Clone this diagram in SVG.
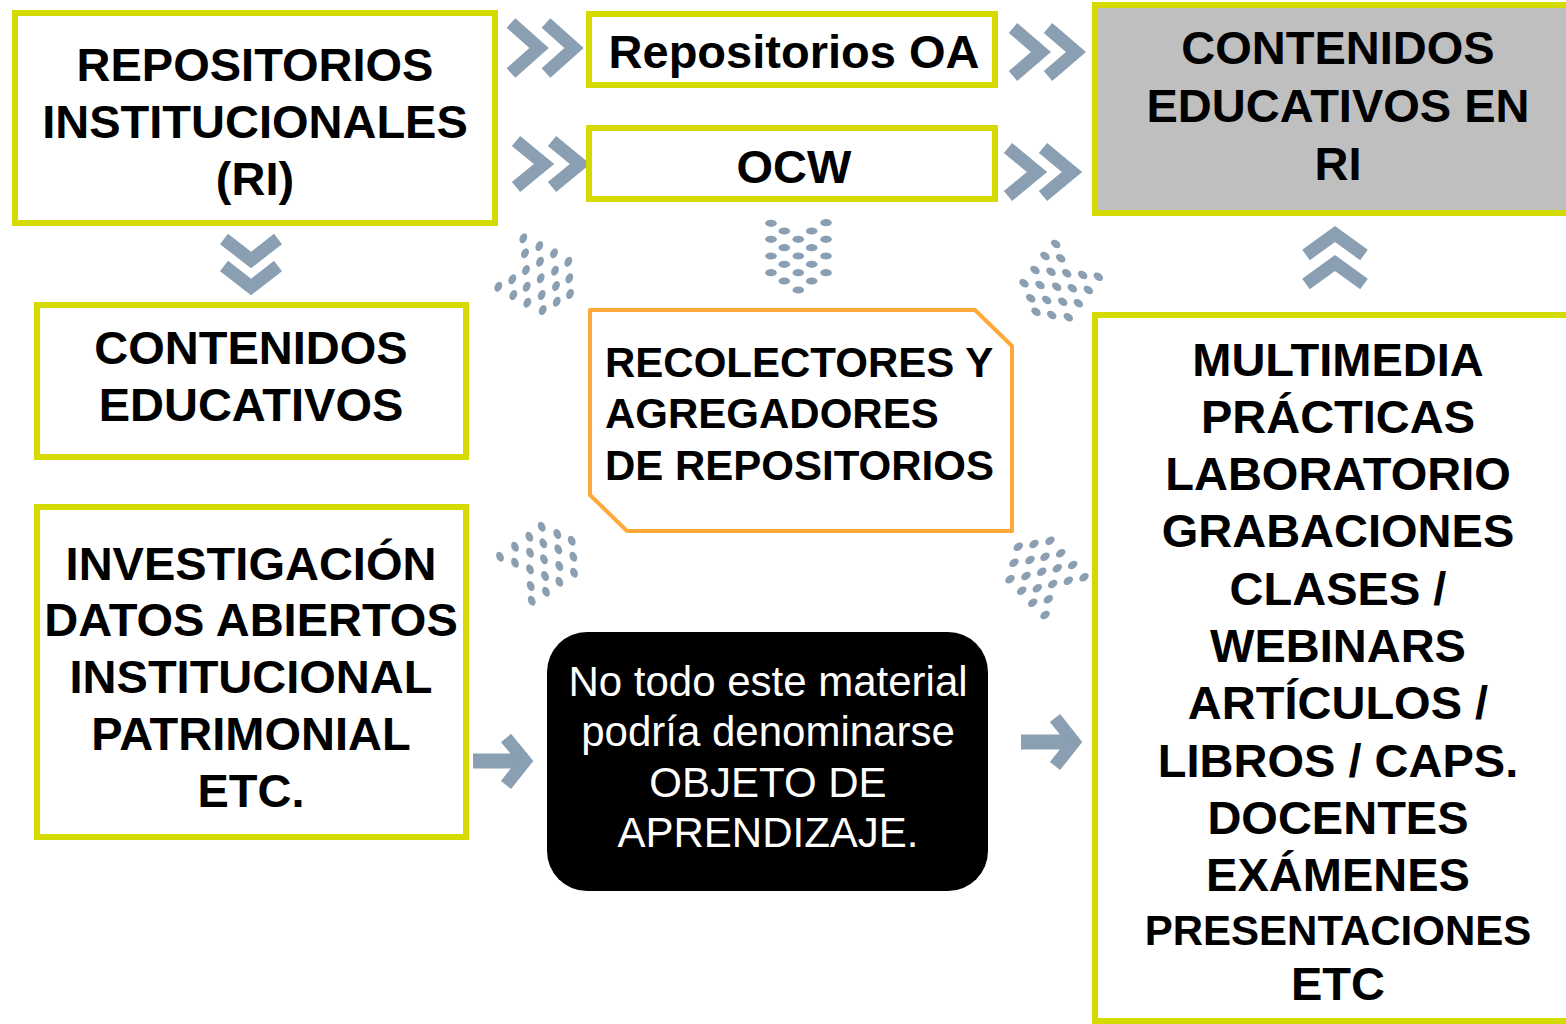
<svg xmlns="http://www.w3.org/2000/svg" width="1566" height="1024" viewBox="0 0 1566 1024">
<defs>
<style>
.box{fill:#FFFFFF;stroke:#D4D900;stroke-width:6}
.gray{fill:#BFBFBF;stroke:#D4D900;stroke-width:6}
.orange{fill:#FFFFFF;stroke:#FFA93A;stroke-width:4;stroke-linejoin:round}
.t{font-family:"Liberation Sans",Arial,sans-serif;font-weight:bold;font-size:47px;fill:#000;text-anchor:middle}
.t42{font-family:"Liberation Sans",Arial,sans-serif;font-weight:bold;font-size:42px;fill:#000}
.w{font-family:"Liberation Sans",Arial,sans-serif;font-size:42px;fill:#FFF;text-anchor:middle}
.chev{fill:none;stroke:#8A9FB2;stroke-width:13;stroke-linejoin:miter;stroke-miterlimit:10}
.shaft{stroke:#8A9FB2;stroke-width:15}
.dot{fill:#8A9FB2}
</style>
</defs>
<rect width="1566" height="1024" fill="#FFFFFF"/>

<g id="connectors">
  <g id="chev-ri-oa">
    <polyline class="chev" points="511,23 539,48 511,73"/>
    <polyline class="chev" points="546,23 574,48 546,73"/>
  </g>
  <g id="chev-ri-ocw">
    <polyline class="chev" points="516,141 544,164 516,187"/>
    <polyline class="chev" points="552,141 580,164 552,187"/>
  </g>
  <g id="chev-oa-cri">
    <polyline class="chev" points="1013,28 1041,52 1013,76"/>
    <polyline class="chev" points="1048,28 1076,52 1048,76"/>
  </g>
  <g id="chev-ocw-cri">
    <polyline class="chev" points="1008,148 1037,172 1008,196"/>
    <polyline class="chev" points="1043,148 1072,172 1043,196"/>
  </g>
  <g id="chev-ri-ce">
    <polyline class="chev" points="224,239 251,260 278,239"/>
    <polyline class="chev" points="224,266 251,287 278,266"/>
  </g>
  <g id="chev-mm-cri">
    <polyline class="chev" points="1306,255 1335,234 1364,255"/>
    <polyline class="chev" points="1306,284 1335,263 1364,284"/>
  </g>
  <g id="arrow-inv-black">
    <line class="shaft" x1="473" y1="761" x2="522" y2="761"/>
    <polyline class="chev" points="506,738 525,761 506,785"/>
  </g>
  <g id="arrow-black-mm">
    <line class="shaft" x1="1021" y1="742" x2="1070" y2="742"/>
    <polyline class="chev" points="1055,718 1074,742 1055,766"/>
  </g>
  <g id="dots1" class="dot">
    <ellipse cx="523.3" cy="238.3" rx="3.6" ry="5.2" transform="rotate(25 523.3 238.3)"/>
    <ellipse cx="539.3" cy="246" rx="3.6" ry="5.2" transform="rotate(25 539.3 246)"/>
    <ellipse cx="525" cy="253.3" rx="3.6" ry="5.2" transform="rotate(25 525 253.3)"/>
    <ellipse cx="554" cy="253.3" rx="3.6" ry="5.2" transform="rotate(25 554 253.3)"/>
    <ellipse cx="540" cy="261.7" rx="3.6" ry="5.2" transform="rotate(25 540 261.7)"/>
    <ellipse cx="568.3" cy="261.7" rx="3.6" ry="5.2" transform="rotate(25 568.3 261.7)"/>
    <ellipse cx="526" cy="270" rx="3.6" ry="5.2" transform="rotate(25 526 270)"/>
    <ellipse cx="555" cy="270.7" rx="3.6" ry="5.2" transform="rotate(25 555 270.7)"/>
    <ellipse cx="540.7" cy="278.3" rx="3.6" ry="5.2" transform="rotate(25 540.7 278.3)"/>
    <ellipse cx="569.3" cy="278.3" rx="3.6" ry="5.2" transform="rotate(25 569.3 278.3)"/>
    <ellipse cx="498.3" cy="286.7" rx="3.6" ry="5.2" transform="rotate(25 498.3 286.7)"/>
    <ellipse cx="512.3" cy="279.3" rx="3.6" ry="5.2" transform="rotate(25 512.3 279.3)"/>
    <ellipse cx="526.7" cy="286.7" rx="3.6" ry="5.2" transform="rotate(25 526.7 286.7)"/>
    <ellipse cx="556" cy="286" rx="3.6" ry="5.2" transform="rotate(25 556 286)"/>
    <ellipse cx="513.3" cy="295" rx="3.6" ry="5.2" transform="rotate(25 513.3 295)"/>
    <ellipse cx="541.7" cy="295" rx="3.6" ry="5.2" transform="rotate(25 541.7 295)"/>
    <ellipse cx="570" cy="294" rx="3.6" ry="5.2" transform="rotate(25 570 294)"/>
    <ellipse cx="527.3" cy="302.7" rx="3.6" ry="5.2" transform="rotate(25 527.3 302.7)"/>
    <ellipse cx="556.7" cy="301.7" rx="3.6" ry="5.2" transform="rotate(25 556.7 301.7)"/>
    <ellipse cx="542.7" cy="310" rx="3.6" ry="5.2" transform="rotate(25 542.7 310)"/>
  </g>
  <g id="dots2" class="dot">
    <ellipse cx="771" cy="223.3" rx="5.8" ry="3.6"/>
    <ellipse cx="826" cy="222.7" rx="5.8" ry="3.6"/>
    <ellipse cx="784.3" cy="231" rx="5.8" ry="3.6"/>
    <ellipse cx="811.7" cy="231" rx="5.8" ry="3.6"/>
    <ellipse cx="771" cy="239.3" rx="5.8" ry="3.6"/>
    <ellipse cx="798.3" cy="239.3" rx="5.8" ry="3.6"/>
    <ellipse cx="826" cy="239.3" rx="5.8" ry="3.6"/>
    <ellipse cx="784.3" cy="247.7" rx="5.8" ry="3.6"/>
    <ellipse cx="811.7" cy="247.7" rx="5.8" ry="3.6"/>
    <ellipse cx="771" cy="256" rx="5.8" ry="3.6"/>
    <ellipse cx="798.3" cy="256" rx="5.8" ry="3.6"/>
    <ellipse cx="826" cy="256" rx="5.8" ry="3.6"/>
    <ellipse cx="784.3" cy="264.3" rx="5.8" ry="3.6"/>
    <ellipse cx="811.7" cy="264.3" rx="5.8" ry="3.6"/>
    <ellipse cx="771" cy="272.7" rx="5.8" ry="3.6"/>
    <ellipse cx="798.3" cy="272.7" rx="5.8" ry="3.6"/>
    <ellipse cx="826" cy="272.7" rx="5.8" ry="3.6"/>
    <ellipse cx="784.3" cy="281" rx="5.8" ry="3.6"/>
    <ellipse cx="811.7" cy="281" rx="5.8" ry="3.6"/>
    <ellipse cx="798.3" cy="290" rx="5.8" ry="3.6"/>
  </g>
  <g id="dots3" class="dot">
    <ellipse cx="1055.7" cy="244" rx="5.2" ry="3.6" transform="rotate(35 1055.7 244)"/>
    <ellipse cx="1045" cy="256" rx="5.2" ry="3.6" transform="rotate(35 1045 256)"/>
    <ellipse cx="1060.7" cy="258.3" rx="5.2" ry="3.6" transform="rotate(35 1060.7 258.3)"/>
    <ellipse cx="1035" cy="270" rx="5.2" ry="3.6" transform="rotate(35 1035 270)"/>
    <ellipse cx="1051" cy="271.7" rx="5.2" ry="3.6" transform="rotate(35 1051 271.7)"/>
    <ellipse cx="1066.7" cy="273.3" rx="5.2" ry="3.6" transform="rotate(35 1066.7 273.3)"/>
    <ellipse cx="1082.7" cy="275" rx="5.2" ry="3.6" transform="rotate(35 1082.7 275)"/>
    <ellipse cx="1098.3" cy="276.7" rx="5.2" ry="3.6" transform="rotate(35 1098.3 276.7)"/>
    <ellipse cx="1024" cy="283.3" rx="5.2" ry="3.6" transform="rotate(35 1024 283.3)"/>
    <ellipse cx="1040" cy="285" rx="5.2" ry="3.6" transform="rotate(35 1040 285)"/>
    <ellipse cx="1056.7" cy="286.7" rx="5.2" ry="3.6" transform="rotate(35 1056.7 286.7)"/>
    <ellipse cx="1072.3" cy="288.3" rx="5.2" ry="3.6" transform="rotate(35 1072.3 288.3)"/>
    <ellipse cx="1088.3" cy="290" rx="5.2" ry="3.6" transform="rotate(35 1088.3 290)"/>
    <ellipse cx="1030.7" cy="298.3" rx="5.2" ry="3.6" transform="rotate(35 1030.7 298.3)"/>
    <ellipse cx="1046.7" cy="300" rx="5.2" ry="3.6" transform="rotate(35 1046.7 300)"/>
    <ellipse cx="1062.7" cy="301.7" rx="5.2" ry="3.6" transform="rotate(35 1062.7 301.7)"/>
    <ellipse cx="1078.3" cy="303.3" rx="5.2" ry="3.6" transform="rotate(35 1078.3 303.3)"/>
    <ellipse cx="1036" cy="311.7" rx="5.2" ry="3.6" transform="rotate(35 1036 311.7)"/>
    <ellipse cx="1051.7" cy="315" rx="5.2" ry="3.6" transform="rotate(35 1051.7 315)"/>
    <ellipse cx="1068.3" cy="317.3" rx="5.2" ry="3.6" transform="rotate(35 1068.3 317.3)"/>
  </g>
  <g id="dots4" class="dot">
    <ellipse cx="541.7" cy="526.7" rx="3.6" ry="5.2" transform="rotate(-25 541.7 526.7)"/>
    <ellipse cx="529.3" cy="536.7" rx="3.6" ry="5.2" transform="rotate(-25 529.3 536.7)"/>
    <ellipse cx="557.3" cy="534" rx="3.6" ry="5.2" transform="rotate(-25 557.3 534)"/>
    <ellipse cx="571.7" cy="540.7" rx="3.6" ry="5.2" transform="rotate(-25 571.7 540.7)"/>
    <ellipse cx="515" cy="546.7" rx="3.6" ry="5.2" transform="rotate(-25 515 546.7)"/>
    <ellipse cx="543.3" cy="543.3" rx="3.6" ry="5.2" transform="rotate(-25 543.3 543.3)"/>
    <ellipse cx="500" cy="556.7" rx="3.6" ry="5.2" transform="rotate(-25 500 556.7)"/>
    <ellipse cx="530" cy="552.7" rx="3.6" ry="5.2" transform="rotate(-25 530 552.7)"/>
    <ellipse cx="558.3" cy="549.3" rx="3.6" ry="5.2" transform="rotate(-25 558.3 549.3)"/>
    <ellipse cx="573.3" cy="556.7" rx="3.6" ry="5.2" transform="rotate(-25 573.3 556.7)"/>
    <ellipse cx="515" cy="562.7" rx="3.6" ry="5.2" transform="rotate(-25 515 562.7)"/>
    <ellipse cx="544" cy="559.3" rx="3.6" ry="5.2" transform="rotate(-25 544 559.3)"/>
    <ellipse cx="559.3" cy="566" rx="3.6" ry="5.2" transform="rotate(-25 559.3 566)"/>
    <ellipse cx="530" cy="569.3" rx="3.6" ry="5.2" transform="rotate(-25 530 569.3)"/>
    <ellipse cx="574" cy="572.7" rx="3.6" ry="5.2" transform="rotate(-25 574 572.7)"/>
    <ellipse cx="545" cy="576" rx="3.6" ry="5.2" transform="rotate(-25 545 576)"/>
    <ellipse cx="530.7" cy="586" rx="3.6" ry="5.2" transform="rotate(-25 530.7 586)"/>
    <ellipse cx="559.3" cy="581.7" rx="3.6" ry="5.2" transform="rotate(-25 559.3 581.7)"/>
    <ellipse cx="546" cy="591.7" rx="3.6" ry="5.2" transform="rotate(-25 546 591.7)"/>
    <ellipse cx="531.7" cy="600.7" rx="3.6" ry="5.2" transform="rotate(-25 531.7 600.7)"/>
  </g>
  <g id="dots5" class="dot">
    <ellipse cx="1018.3" cy="546.7" rx="5.2" ry="3.6" transform="rotate(-35 1018.3 546.7)"/>
    <ellipse cx="1034" cy="544" rx="5.2" ry="3.6" transform="rotate(-35 1034 544)"/>
    <ellipse cx="1050" cy="540.7" rx="5.2" ry="3.6" transform="rotate(-35 1050 540.7)"/>
    <ellipse cx="1014" cy="562.7" rx="5.2" ry="3.6" transform="rotate(-35 1014 562.7)"/>
    <ellipse cx="1030" cy="560" rx="5.2" ry="3.6" transform="rotate(-35 1030 560)"/>
    <ellipse cx="1045" cy="556.7" rx="5.2" ry="3.6" transform="rotate(-35 1045 556.7)"/>
    <ellipse cx="1060.7" cy="553.3" rx="5.2" ry="3.6" transform="rotate(-35 1060.7 553.3)"/>
    <ellipse cx="1010" cy="579.3" rx="5.2" ry="3.6" transform="rotate(-35 1010 579.3)"/>
    <ellipse cx="1026" cy="576" rx="5.2" ry="3.6" transform="rotate(-35 1026 576)"/>
    <ellipse cx="1041.7" cy="571.7" rx="5.2" ry="3.6" transform="rotate(-35 1041.7 571.7)"/>
    <ellipse cx="1057.3" cy="568.3" rx="5.2" ry="3.6" transform="rotate(-35 1057.3 568.3)"/>
    <ellipse cx="1072.7" cy="565" rx="5.2" ry="3.6" transform="rotate(-35 1072.7 565)"/>
    <ellipse cx="1021.7" cy="590.7" rx="5.2" ry="3.6" transform="rotate(-35 1021.7 590.7)"/>
    <ellipse cx="1037.3" cy="588.3" rx="5.2" ry="3.6" transform="rotate(-35 1037.3 588.3)"/>
    <ellipse cx="1052.7" cy="584" rx="5.2" ry="3.6" transform="rotate(-35 1052.7 584)"/>
    <ellipse cx="1068.3" cy="580.7" rx="5.2" ry="3.6" transform="rotate(-35 1068.3 580.7)"/>
    <ellipse cx="1084" cy="577.3" rx="5.2" ry="3.6" transform="rotate(-35 1084 577.3)"/>
    <ellipse cx="1032.7" cy="602.7" rx="5.2" ry="3.6" transform="rotate(-35 1032.7 602.7)"/>
    <ellipse cx="1048.3" cy="599.3" rx="5.2" ry="3.6" transform="rotate(-35 1048.3 599.3)"/>
    <ellipse cx="1045" cy="615" rx="5.2" ry="3.6" transform="rotate(-35 1045 615)"/>
  </g>
</g>

<g id="node-ri">
  <rect class="box" x="15" y="13" width="480" height="210"/>
  <text class="t" x="255" y="81">REPOSITORIOS</text>
  <text class="t" x="255" y="138">INSTITUCIONALES</text>
  <text class="t" x="255" y="195">(RI)</text>
</g>
<g id="node-oa">
  <rect class="box" x="589" y="14" width="406" height="71"/>
  <text class="t" x="794" y="68">Repositorios OA</text>
</g>
<g id="node-ocw">
  <rect class="box" x="589" y="128" width="406" height="71"/>
  <text class="t" x="794" y="183">OCW</text>
</g>
<g id="node-cri">
  <rect class="gray" x="1095" y="5" width="490" height="208"/>
  <text class="t" x="1338" y="64">CONTENIDOS</text>
  <text class="t" x="1338" y="122">EDUCATIVOS EN</text>
  <text class="t" x="1338" y="180">RI</text>
</g>
<g id="node-ce">
  <rect class="box" x="37" y="305" width="429" height="152"/>
  <text class="t" x="251" y="364">CONTENIDOS</text>
  <text class="t" x="251" y="421">EDUCATIVOS</text>
</g>
<g id="node-rec">
  <polygon class="orange" points="590,310 975,310 1012,346 1012,531 627,531 590,495"/>
  <text class="t42" x="605" y="377">RECOLECTORES Y</text>
  <text class="t42" x="605" y="428">AGREGADORES</text>
  <text class="t42" x="605" y="480">DE REPOSITORIOS</text>
</g>
<g id="node-inv">
  <rect class="box" x="37" y="507" width="429" height="330"/>
  <text class="t" x="251" y="580">INVESTIGACIÓN</text>
  <text class="t" x="251" y="636">DATOS ABIERTOS</text>
  <text class="t" x="251" y="693">INSTITUCIONAL</text>
  <text class="t" x="251" y="750">PATRIMONIAL</text>
  <text class="t" x="251" y="807">ETC.</text>
</g>
<g id="node-note">
  <rect x="547" y="632" width="441" height="259" rx="40" ry="40" fill="#000000"/>
  <text class="w" x="768" y="696">No todo este material</text>
  <text class="w" x="768" y="746">podría denominarse</text>
  <text class="w" x="768" y="797">OBJETO DE</text>
  <text class="w" x="768" y="847">APRENDIZAJE.</text>
</g>
<g id="node-mm">
  <rect class="box" x="1095" y="315" width="490" height="706"/>
  <text class="t" x="1338" y="376">MULTIMEDIA</text>
  <text class="t" x="1338" y="433">PRÁCTICAS</text>
  <text class="t" x="1338" y="490">LABORATORIO</text>
  <text class="t" x="1338" y="547">GRABACIONES</text>
  <text class="t" x="1338" y="605">CLASES /</text>
  <text class="t" x="1338" y="662">WEBINARS</text>
  <text class="t" x="1338" y="719">ARTÍCULOS /</text>
  <text class="t" x="1338" y="777">LIBROS / CAPS.</text>
  <text class="t" x="1338" y="834">DOCENTES</text>
  <text class="t" x="1338" y="891">EXÁMENES</text>
  <text class="t" x="1338" y="945" style="font-size:42px">PRESENTACIONES</text>
  <text class="t" x="1338" y="1000">ETC</text>
</g>
</svg>
